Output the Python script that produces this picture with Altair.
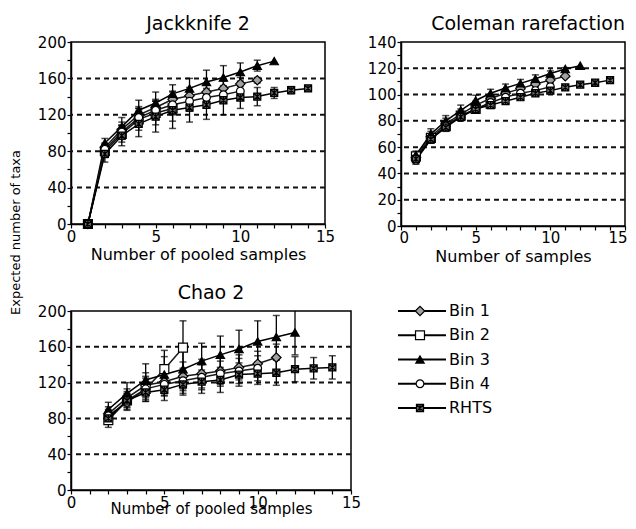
import altair as alt
import pandas as pd

FONT = "DejaVu Sans"
SERIES = ["Bin 1", "Bin 2", "Bin 3", "Bin 4", "RHTS"]
RHTS_PATH = "M-1,-1L1,-1L1,1L-1,1Z M-1,-1L1,1 M1,-1L-1,1 M0,-1L0,1"
SHAPES = ["diamond", "square", "triangle-up", "circle", RHTS_PATH]
FILLS = ["#a0a0a0", "white", "black", "white", "#6e6e6e"]
LEGEND_FILLS = ["#a0a0a0", "white", "black", "white", "white"]
LINE_COLORS = ["#1a1a1a", "#1a1a1a", "black", "#1a1a1a", "black"]
LINE_WIDTHS = [1.5, 1.5, 2.0, 1.5, 2.4]

# ---------------- Jackknife 2 ----------------
J_X = {
    "Bin 1": list(range(1, 12)),
    "Bin 2": list(range(1, 7)),
    "Bin 3": list(range(1, 13)),
    "Bin 4": list(range(1, 11)),
    "RHTS": list(range(1, 15)),
}
J_Y = {
    "Bin 1": [0, 84, 104, 120, 128, 137, 141, 145, 149, 154, 158],
    "Bin 2": [0, 80, 99, 115, 122, 127],
    "Bin 3": [0, 89, 107, 125, 133, 143, 149, 156, 161, 167, 174, 179],
    "Bin 4": [0, 82, 101, 117, 125, 131, 135, 139, 142, 146],
    "RHTS": [0, 77, 97, 110, 118, 125, 128, 131, 136, 139, 140, 144, 147, 149],
}
J_E = {
    "Bin 1": [0, 5, 8, 9, 9, 9, 9, 9, 8, 7, 3],
    "Bin 2": [0, 7, 9, 12, 13, 14],
    "Bin 3": [0, 5, 10, 11, 12, 10, 11, 13, 13, 10, 6, 0],
    "Bin 4": [0, 6, 8, 10, 10, 11, 11, 10, 9, 8],
    "RHTS": [0, 9, 11, 14, 17, 20, 16, 16, 16, 12, 10, 6, 4, 3],
}

# ---------------- Coleman rarefaction ----------------
C_X = {
    "Bin 1": list(range(1, 12)),
    "Bin 2": list(range(1, 7)),
    "Bin 3": list(range(1, 13)),
    "Bin 4": list(range(1, 11)),
    "RHTS": list(range(1, 15)),
}
C_Y = {
    "Bin 1": [52, 68, 78, 85, 92, 97, 101, 104.5, 108, 111, 114],
    "Bin 2": [53, 67, 76, 84, 89, 93],
    "Bin 3": [54, 70, 80, 88, 95.5, 101, 105, 108.5, 112, 116, 119.5, 122],
    "Bin 4": [50, 66, 76, 83, 89, 94, 98, 101, 103, 106],
    "RHTS": [51, 66, 75, 83, 89, 92, 95, 98, 101, 103, 105.5, 107.5, 109, 111],
}
C_E = {
    "Bin 1": [3, 4, 4, 4, 3, 3, 3, 3, 2, 2, 0],
    "Bin 2": [3, 3, 3, 3, 3, 3],
    "Bin 3": [3, 4, 4, 4, 4, 3, 3, 3, 3, 2, 1, 0],
    "Bin 4": [3, 3, 3, 3, 3, 2, 2, 2, 2, 2],
    "RHTS": [3, 3, 3, 3, 2.5, 2.5, 2, 2, 2, 2, 1.5, 1.5, 1, 1],
}

# ---------------- Chao 2 ----------------
H_X = {
    "Bin 1": list(range(2, 12)),
    "Bin 2": list(range(2, 7)),
    "Bin 3": list(range(2, 13)),
    "Bin 4": list(range(2, 11)),
    "RHTS": list(range(2, 15)),
}
H_Y = {
    "Bin 1": [85, 103, 117, 121, 127, 130, 133, 137, 141, 148],
    "Bin 2": [78, 100, 113, 135, 159],
    "Bin 3": [90, 108, 123, 129, 135, 144, 151, 157.5, 166, 171, 176],
    "Bin 4": [83, 98, 113, 118, 122, 126, 130, 133, 136],
    "RHTS": [80, 100, 109, 112, 118, 121, 123, 129, 130, 131, 135, 136, 137],
}
H_E = {
    "Bin 1": [8, 10, 14, 15, 16, 16, 15, 14, 14, 15],
    "Bin 2": [8, 10, 14, 21, 30],
    "Bin 3": [8, 12, 18, 20, 22, 20, 21, 21, 23, 24, 25],
    "Bin 4": [7, 9, 12, 13, 14, 14, 14, 14, 14],
    "RHTS": [6, 8, 10, 12, 12, 13, 14, 13, 12, 14, 14, 12, 13],
}

LEGEND_LABELS = SERIES


def panel_df(xs, ys, es):
    rows = []
    for s in SERIES:
        for x, y, e in zip(xs[s], ys[s], es[s]):
            rows.append({"series": s, "x": x, "y": y, "lo": y - e, "hi": y + e, "err": e})
    return pd.DataFrame(rows)


def panel(df, title, xtitle, ymax, ystep, ylabstep, grid_vals, w, h, sizes,
          anchor="middle", label_pad=1, title_pad=2, ytitle=None, title_offset=-14,
          xtitle_size=16, flush=False):
    xs = alt.Scale(domain=[0, 15], nice=False, zero=True)
    ys = alt.Scale(domain=[0, ymax], nice=False)
    xkw = dict(
        values=list(range(16)),
        labelExpr="datum.value % 5 == 0 ? datum.label : ''",
        title=xtitle, labelPadding=label_pad, titlePadding=title_pad,
        titleFontSize=xtitle_size,
        tickSize=4, labelOverlap=False,
    )
    if flush:
        xkw.update(labelFlush=True, labelFlushOffset=2)
    else:
        xkw.update(labelFlush=False)
    xaxis = alt.Axis(**xkw)
    ykw = dict(
        values=list(range(0, ymax + 1, ystep)),
        labelExpr=f"datum.value % {ylabstep} == 0 ? datum.label : ''",
        tickSize=4, labelPadding=1, labelOverlap=False, labelFlush=False,
    )
    if ytitle:
        ykw.update(title=ytitle, titleX=-49, titleY=190, titleAngle=270,
                   titleAlign="center", titleBaseline="bottom", titleFontSize=13)
    else:
        ykw.update(title="")
    yaxis = alt.Axis(**ykw)

    X = alt.X("x:Q", scale=xs, axis=xaxis)

    def Y(field):
        return alt.Y(field, scale=ys, axis=yaxis)

    grid = alt.Chart(pd.DataFrame({"g": grid_vals})).mark_rule(
        strokeDash=[5, 4], strokeWidth=2, color="#111111"
    ).encode(y=Y("g:Q"))

    base = alt.Chart(df)
    lines = base.mark_line().encode(
        x=X,
        y=Y("y:Q"),
        detail="series:N",
        color=alt.Color("series:N", scale=alt.Scale(domain=SERIES, range=LINE_COLORS), legend=None),
        strokeWidth=alt.StrokeWidth("series:N", scale=alt.Scale(domain=SERIES, range=LINE_WIDTHS), legend=None),
    )
    eb = base.transform_filter("datum.err > 0")
    err = eb.mark_rule(color="black", strokeWidth=1.3, clip=True).encode(
        x=X, y=Y("lo:Q"), y2="hi:Q")
    cap_lo = eb.mark_tick(orient="horizontal", color="black", thickness=1.5, size=7, clip=True).encode(
        x=X, y=Y("lo:Q"))
    cap_hi = eb.mark_tick(orient="horizontal", color="black", thickness=1.5, size=7, clip=True).encode(
        x=X, y=Y("hi:Q"))
    pts = base.mark_point(filled=True, opacity=1, stroke="black", strokeWidth=1.2).encode(
        x=X,
        y=Y("y:Q"),
        shape=alt.Shape("series:N", scale=alt.Scale(domain=SERIES, range=SHAPES), legend=None),
        fill=alt.Fill("series:N", scale=alt.Scale(domain=SERIES, range=FILLS), legend=None),
        size=alt.Size("series:N", scale=alt.Scale(domain=SERIES, range=sizes), legend=None),
    )
    return alt.layer(grid, lines, err, cap_lo, cap_hi, pts).properties(
        width=w, height=h,
        title=alt.TitleParams(title, anchor=anchor, offset=title_offset,
                              baseline="alphabetic", frame="group"),
    )


p1 = panel(panel_df(J_X, J_Y, J_E), "Jackknife 2", "Number of pooled samples",
           200, 20, 40, [40, 80, 120, 160], 254, 182, [90, 50, 110, 64, 150],
           ytitle="Expected number of taxa")
p2 = panel(panel_df(C_X, C_Y, C_E), "Coleman rarefaction", "Number of samples",
           140, 10, 20, [20, 40, 60, 80, 100, 120], 224, 184, [40, 30, 50, 35, 120],
           anchor="end", label_pad=0, title_pad=3, flush=True)
p3 = panel(panel_df(H_X, H_Y, H_E), "Chao 2", "Number of pooled samples",
           200, 20, 40, [40, 80, 120, 160], 280, 179, [70, 80, 75, 55, 140],
           label_pad=1, title_pad=-9, xtitle_size=15)

leg_df = pd.DataFrame({
    "series": LEGEND_LABELS,
    "row": list(range(len(LEGEND_LABELS))),
    "x0": [0] * 5, "x1": [48] * 5, "xm": [22] * 5, "xt": [51] * 5,
})
lx = alt.Scale(domain=[3, 51], nice=False, zero=False)
ly = alt.Scale(domain=[0, 4], reverse=True, nice=False)
lb = alt.Chart(leg_df)
leg_lines = lb.mark_rule(color="black", strokeWidth=1.8).encode(
    x=alt.X("x0:Q", scale=lx, axis=None), x2="x1:Q",
    y=alt.Y("row:Q", scale=ly, axis=None))
leg_pts = lb.mark_point(filled=True, opacity=1, stroke="black", strokeWidth=1.2).encode(
    x=alt.X("xm:Q", scale=lx, axis=None),
    y=alt.Y("row:Q", scale=ly, axis=None),
    shape=alt.Shape("series:N", scale=alt.Scale(domain=SERIES, range=SHAPES), legend=None),
    fill=alt.Fill("series:N", scale=alt.Scale(domain=SERIES, range=LEGEND_FILLS), legend=None),
    size=alt.Size("series:N", scale=alt.Scale(domain=SERIES, range=[110, 60, 200, 100, 180]), legend=None),
)
leg_txt = lb.mark_text(align="left", baseline="middle", fontSize=16, font=FONT, color="black").encode(
    x=alt.X("xt:Q", scale=lx, axis=None),
    y=alt.Y("row:Q", scale=ly, axis=None),
    text="series:N")
legend = alt.layer(leg_lines, leg_pts, leg_txt).properties(
    width=48, height=97, view=alt.ViewBackground(strokeOpacity=0))

chart = alt.concat(
    p1, p2, p3, legend, columns=2,
    spacing={"row": 85, "column": 50}, bounds="flush", align="each",
).properties(
    padding={"left": 0, "top": 6, "right": 0, "bottom": 0}
).configure_axis(
    labelFont=FONT, titleFont=FONT, labelColor="black", titleColor="black",
    labelFontSize=15, titleFontSize=16, titleFontWeight="normal",
    domainColor="black", domainWidth=1.5, tickColor="black", tickWidth=1.2, grid=False,
).configure_view(
    stroke="black", strokeWidth=1.5
).configure_title(
    font=FONT, fontSize=19, fontWeight="normal", color="black"
)

chart.save("out.html", embed_options={"renderer": "svg", "actions": False})
